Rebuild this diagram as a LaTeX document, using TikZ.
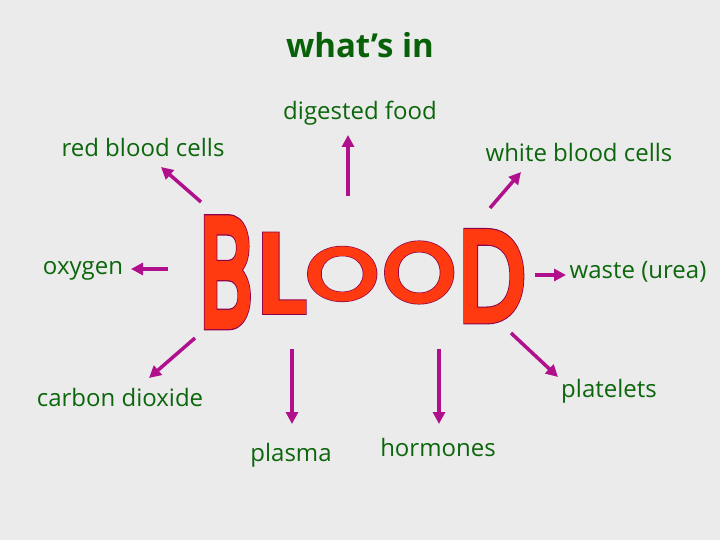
\documentclass[tikz,border=0pt]{standalone}
\usepackage{fontspec}
\setmainfont{Open Sans}
\newfontfamily\bloodfont{Poppins}
\usetikzlibrary{arrows.meta}
\definecolor{bggray}{RGB}{235,235,235}
\definecolor{labelgreen}{RGB}{12,102,12}
\definecolor{titlegreen}{RGB}{8,96,8}
\definecolor{arrowpink}{RGB}{176,16,140}
\definecolor{bloodred}{RGB}{255,58,16}
\newcommand{\bloodletter}[3]{\resizebox{#2pt}{#3pt}{\bloodfont\fontsize{120}{120}\selectfont
  \rlap{\special{pdf:code 2 Tr 8 w 0.55 0 0.3 RG}#1}\special{pdf:code 2 Tr 6 w 1 0.227 0.063 RG}#1\special{pdf:code 0 Tr}}}
\tikzset{
  lbl/.style={text=labelgreen, font=\fontsize{24}{26}\selectfont, inner sep=0},
  pin/.style={draw=arrowpink, line width=3.5pt, -{Triangle[length=12pt,width=12pt]}},
  letter/.style={inner sep=0, anchor=north west, text=bloodred}
}
\begin{document}
\begin{tikzpicture}[x=1pt,y=-1pt]
  \useasboundingbox[fill=bggray] (0,0) rectangle (720,540);

  \node[text=titlegreen, font=\bfseries\fontsize{33}{36}\selectfont] (title) at (360,45) {what’s in};

  \node[letter] (lB) at (200,219) {\bloodletter{B}{52}{106}};
  \node[letter] (lL) at (257,235) {\bloodletter{L}{48}{76}};
  \node[letter] (lO) at (306,248) {\bloodletter{O}{72}{51}};
  \node[letter] (lOO) at (383,243) {\bloodletter{O}{72}{58}};
  \node[letter] (lD) at (459,232) {\bloodletter{D}{66}{88}};

  \node[lbl] (food) at (360,113) {digested food};
  \node[lbl] (rbc) at (143,148) {red blood cells};
  \node[lbl] (wbc) at (579,153) {white blood cells};
  \node[lbl] (oxy) at (83,271) {oxygen};
  \node[lbl] (waste) at (638,272) {waste (urea)};
  \node[lbl] (co2) at (120,397) {carbon dioxide};
  \node[lbl] (plat) at (609,391) {platelets};
  \node[lbl] (plasma) at (291,455) {plasma};
  \node[lbl] (horm) at (438,447) {hormones};

  \coordinate (rbcT) at (201,202);  \coordinate (rbcH) at (161,167);
  \coordinate (foodT) at (348,196); \coordinate (foodH) at (348,135);
  \coordinate (wbcT) at (490,208);  \coordinate (wbcH) at (521,172);
  \coordinate (oxyT) at (168,269);  \coordinate (oxyH) at (131,269);
  \coordinate (wasteT) at (535,275); \coordinate (wasteH) at (566,275);
  \coordinate (co2T) at (195,338);  \coordinate (co2H) at (149,378);
  \coordinate (platT) at (511,333); \coordinate (platH) at (558,377);
  \coordinate (plasmaT) at (292,349); \coordinate (plasmaH) at (292,424);
  \coordinate (hormT) at (439,349); \coordinate (hormH) at (439,424);

  \draw[pin] (rbcT) -- (rbcH);
  \draw[pin] (foodT) -- (foodH);
  \draw[pin] (wbcT) -- (wbcH);
  \draw[pin] (oxyT) -- (oxyH);
  \draw[pin] (wasteT) -- (wasteH);
  \draw[pin] (co2T) -- (co2H);
  \draw[pin] (platT) -- (platH);
  \draw[pin] (plasmaT) -- (plasmaH);
  \draw[pin] (hormT) -- (hormH);
\end{tikzpicture}
\end{document}
